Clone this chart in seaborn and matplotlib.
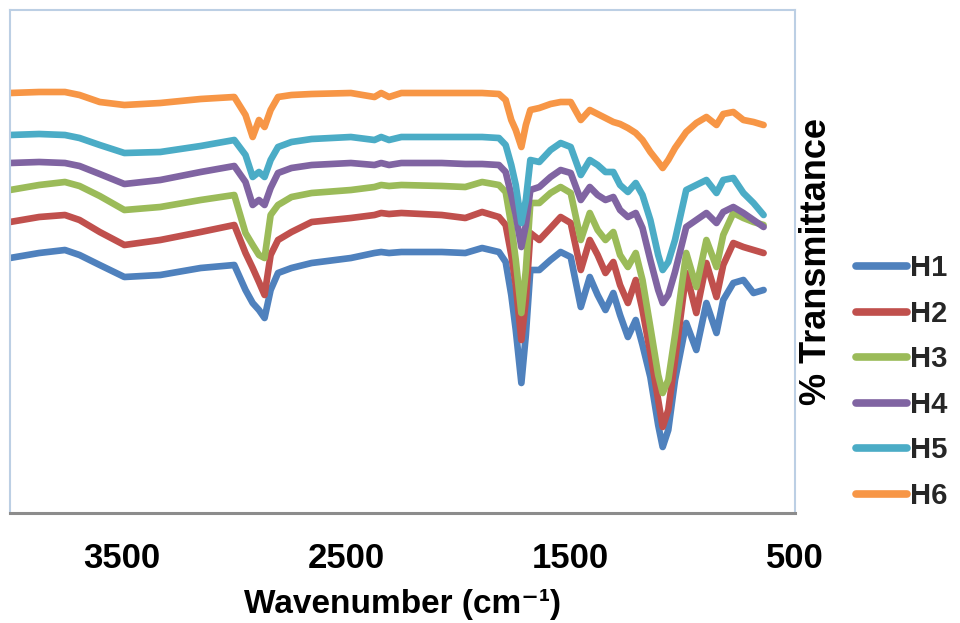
import matplotlib
matplotlib.use("Agg")
import matplotlib.pyplot as plt
import seaborn as sns
import pandas as pd

wavenumber = [4000, 3870, 3755, 3690, 3600, 3490, 3330, 3150, 3000, 2950,
              2918, 2890, 2865, 2838, 2805, 2745, 2655, 2480, 2375, 2345,
              2310, 2255, 2075, 1970, 1895, 1820, 1790, 1765, 1745, 1720,
              1700, 1680, 1640, 1590, 1545, 1500, 1455, 1415, 1380, 1345,
              1310, 1280, 1245, 1210, 1180, 1145, 1110, 1090, 1065, 1035,
              985, 940, 895, 850, 820, 775, 730, 685, 640]

# % transmittance (offset stacked spectra)
h1 = [51.0, 52.0, 52.6, 51.6, 49.6, 47.2, 47.6, 49.0, 49.6, 44.6,
      42.0, 40.6, 39.0, 44.6, 48.0, 49.0, 50.0, 51.0, 52.0, 52.2,
      52.0, 52.2, 52.2, 52.0, 53.0, 52.2, 50.2, 43.6, 36.6, 26.0,
      35.6, 48.6, 48.6, 50.6, 52.2, 51.2, 41.2, 47.2, 43.6, 40.6,
      44.0, 39.6, 35.2, 38.6, 33.6, 27.2, 17.6, 13.2, 16.6, 26.6,
      38.0, 32.6, 42.0, 36.0, 42.6, 46.0, 46.6, 44.0, 44.6]
h2 = [58.2, 59.2, 59.6, 58.6, 56.2, 53.6, 54.6, 56.2, 57.6, 52.0,
      49.0, 46.2, 43.6, 51.6, 54.6, 56.2, 58.2, 59.0, 59.6, 60.0,
      59.8, 60.0, 59.6, 59.0, 60.2, 59.2, 57.6, 51.6, 45.6, 34.6,
      42.6, 56.0, 54.6, 57.0, 59.2, 58.0, 48.6, 54.6, 51.6, 48.0,
      50.2, 45.6, 42.0, 46.6, 40.6, 32.0, 22.6, 17.2, 20.6, 30.6,
      48.0, 40.0, 50.0, 43.2, 49.6, 54.0, 53.2, 52.6, 52.0]
h3 = [64.6, 65.6, 66.2, 65.4, 63.4, 60.6, 61.2, 62.6, 63.6, 56.0,
      53.6, 51.6, 51.0, 59.6, 61.6, 63.2, 64.0, 64.6, 65.2, 65.6,
      65.4, 65.6, 65.4, 65.2, 66.2, 65.6, 64.2, 57.6, 50.6, 40.0,
      48.6, 62.0, 62.0, 64.0, 65.2, 64.0, 54.6, 60.0, 56.6, 54.6,
      56.2, 51.6, 49.2, 52.0, 46.6, 37.2, 27.6, 24.0, 26.6, 35.6,
      52.0, 45.2, 54.6, 49.2, 55.6, 60.0, 59.0, 58.2, 57.6]
h4 = [70.0, 70.2, 70.0, 69.4, 67.8, 65.8, 66.6, 68.2, 69.4, 66.2,
      61.6, 62.6, 61.6, 65.0, 68.0, 69.0, 69.6, 70.0, 69.6, 70.0,
      69.6, 70.0, 70.0, 69.8, 69.8, 69.6, 68.2, 63.6, 59.6, 53.2,
      57.6, 64.6, 65.2, 67.2, 68.6, 68.0, 62.6, 65.2, 63.6, 62.6,
      63.2, 60.6, 59.2, 60.0, 57.0, 50.6, 44.6, 42.0, 43.6, 48.2,
      57.2, 58.6, 60.0, 58.0, 60.2, 61.2, 60.0, 58.6, 57.2]
h5 = [75.6, 75.8, 75.6, 75.0, 73.6, 72.0, 72.2, 73.4, 74.6, 71.6,
      67.2, 68.2, 67.2, 70.6, 73.2, 74.2, 74.8, 75.2, 74.6, 75.2,
      74.6, 75.2, 75.2, 75.2, 75.2, 75.0, 73.6, 69.6, 65.6, 58.0,
      62.6, 70.6, 70.2, 72.6, 74.0, 73.2, 67.6, 70.6, 69.6, 68.2,
      68.2, 65.6, 64.2, 66.0, 63.6, 58.6, 51.6, 48.6, 50.2, 54.6,
      64.6, 65.6, 66.6, 64.0, 66.6, 67.0, 64.0, 62.0, 59.6]
h6 = [84.0, 84.2, 84.2, 83.6, 82.2, 81.6, 82.0, 82.8, 83.2, 79.6,
      75.2, 78.6, 77.2, 80.6, 83.2, 83.6, 83.8, 84.0, 83.2, 84.0,
      83.2, 84.0, 84.0, 84.0, 84.0, 83.8, 82.6, 78.6, 76.6, 73.2,
      77.6, 80.6, 81.0, 81.8, 82.2, 82.2, 78.6, 80.6, 79.8, 79.0,
      78.2, 77.8, 77.0, 76.0, 74.6, 72.2, 70.2, 69.0, 70.6, 73.0,
      76.2, 78.0, 79.2, 77.6, 79.8, 80.2, 78.6, 78.2, 77.6]

samples = ["H1", "H2", "H3", "H4", "H5", "H6"]
series = [h1, h2, h3, h4, h5, h6]
colors = ["#4F81BD", "#C0504D", "#9BBB59", "#8064A2", "#4BACC6", "#F79646"]
x_ticks = [3500, 2500, 1500, 500]

frames = [pd.DataFrame({"wavenumber": wavenumber, "T": vals, "sample": name})
          for name, vals in zip(samples, series)]
df = pd.concat(frames, ignore_index=True)

sns.set_theme(style="white")
plt.rcParams["font.family"] = ["Liberation Sans", "DejaVu Sans"]
plt.rcParams["font.weight"] = "bold"

fig = plt.figure(figsize=(9.6, 6.23), dpi=100)
ax = fig.add_axes([10 / 960, 110 / 623, 785 / 960, 503 / 623])

sns.lineplot(data=df, x="wavenumber", y="T", hue="sample", hue_order=samples,
             palette=dict(zip(samples, colors)), sort=False, linewidth=4.8,
             legend=False, ax=ax)

ax.set_xlim(4000, 500)
ax.set_ylim(0, 100.6)
ax.set_xticks(x_ticks)
ax.set_xticklabels([str(t) for t in x_ticks], fontsize=25, fontweight="bold")
ax.set_yticks([])
ax.tick_params(axis="x", length=0, pad=21, colors="black")

ax.set_xlabel("Wavenumber (cm⁻¹)", fontsize=24, fontweight="bold",
              labelpad=10, color="black")
ax.yaxis.set_label_position("right")
ax.set_ylabel("% Transmittance", fontsize=26, fontweight="bold",
              labelpad=3, color="black")

for side in ["left", "top", "right"]:
    ax.spines[side].set_color("#BCCFE4")
    ax.spines[side].set_linewidth(1.5)
ax.spines["bottom"].set_color("#8C8C8C")
ax.spines["bottom"].set_linewidth(2.2)

leg = ax.legend(handles=ax.get_lines(), labels=samples, loc="upper left",
                bbox_to_anchor=(0.876, 0.615), bbox_transform=fig.transFigure,
                frameon=False, handlelength=1.75, handletextpad=0.1,
                labelspacing=0.6, borderpad=0,
                prop={"weight": "bold", "size": 21})
for line in leg.get_lines():
    line.set_linewidth(5.5)
    line.set_solid_capstyle("round")

fig.savefig("out.png", dpi=100)
